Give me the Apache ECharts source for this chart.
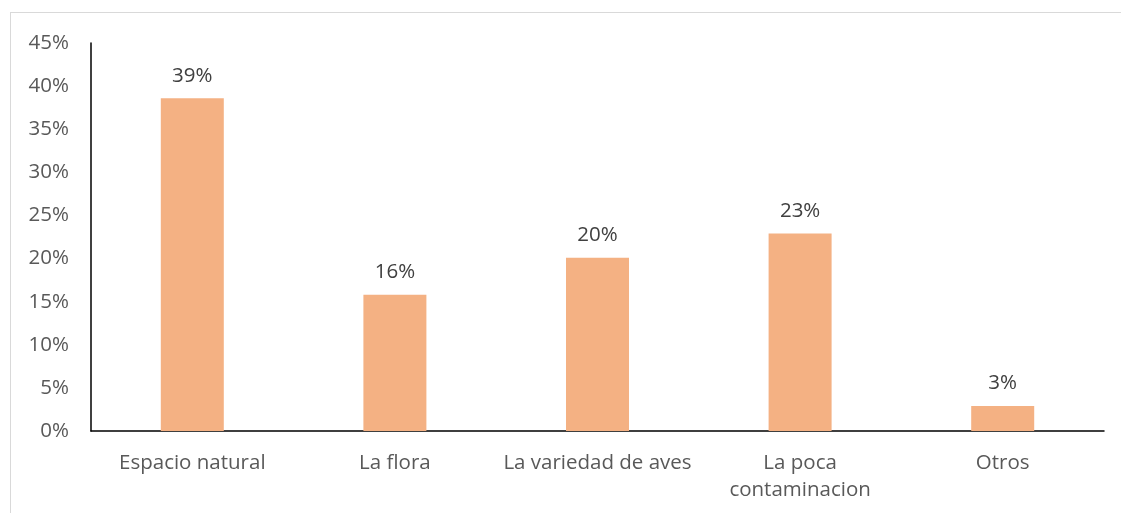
<!DOCTYPE html>
<html>
<head>
<meta charset="utf-8">
<script src="https://cdn.jsdelivr.net/npm/echarts@6/dist/echarts.min.js"></script>
<style>
html,body{margin:0;padding:0;background:#fff;}
#frame{position:absolute;left:10px;top:12px;width:1130px;height:520px;border:1.5px solid #d9d9d9;box-sizing:border-box;}
#chart{position:absolute;left:0;top:0;width:1121px;height:513px;}
</style>
</head>
<body>
<div id="frame"></div>
<div id="chart"></div>
<script>
const categories = ['Espacio natural', 'La flora', 'La variedad de aves', 'La poca\ncontaminacion', 'Otros'];
const values = [38.6, 15.8, 20.1, 22.9, 2.9];
const yTicks = { min: 0, max: 45, interval: 5 };

const FONT = '"Open Sans", sans-serif';
const chart = echarts.init(document.getElementById('chart'), null, { renderer: 'canvas' });
chart.setOption({
  animation: false,
  backgroundColor: 'transparent',
  grid: { left: 91, right: 17, top: 43, bottom: 82, containLabel: false },
  xAxis: {
    type: 'category',
    data: categories,
    axisLine: { lineStyle: { color: '#000', width: 1.5 } },
    axisTick: { show: false },
    axisLabel: { color: '#595959', fontSize: 20.5, fontFamily: FONT, margin: 19, lineHeight: 27, interval: 0 }
  },
  yAxis: {
    type: 'value',
    min: yTicks.min, max: yTicks.max, interval: yTicks.interval,
    axisLine: { show: true, lineStyle: { color: '#000', width: 1.5 } },
    axisTick: { show: false },
    splitLine: { show: false },
    axisLabel: { color: '#595959', fontSize: 20.5, fontFamily: FONT, margin: 22, formatter: v => v + '%' }
  },
  series: [{
    type: 'bar',
    data: values,
    barWidth: 63,
    itemStyle: { color: '#F4B183' },
    label: {
      show: true, position: 'top', distance: 12,
      color: '#404040', fontSize: 20.5, fontFamily: FONT,
      formatter: p => Math.round(p.value) + '%'
    }
  }]
});
</script>
</body>
</html>
